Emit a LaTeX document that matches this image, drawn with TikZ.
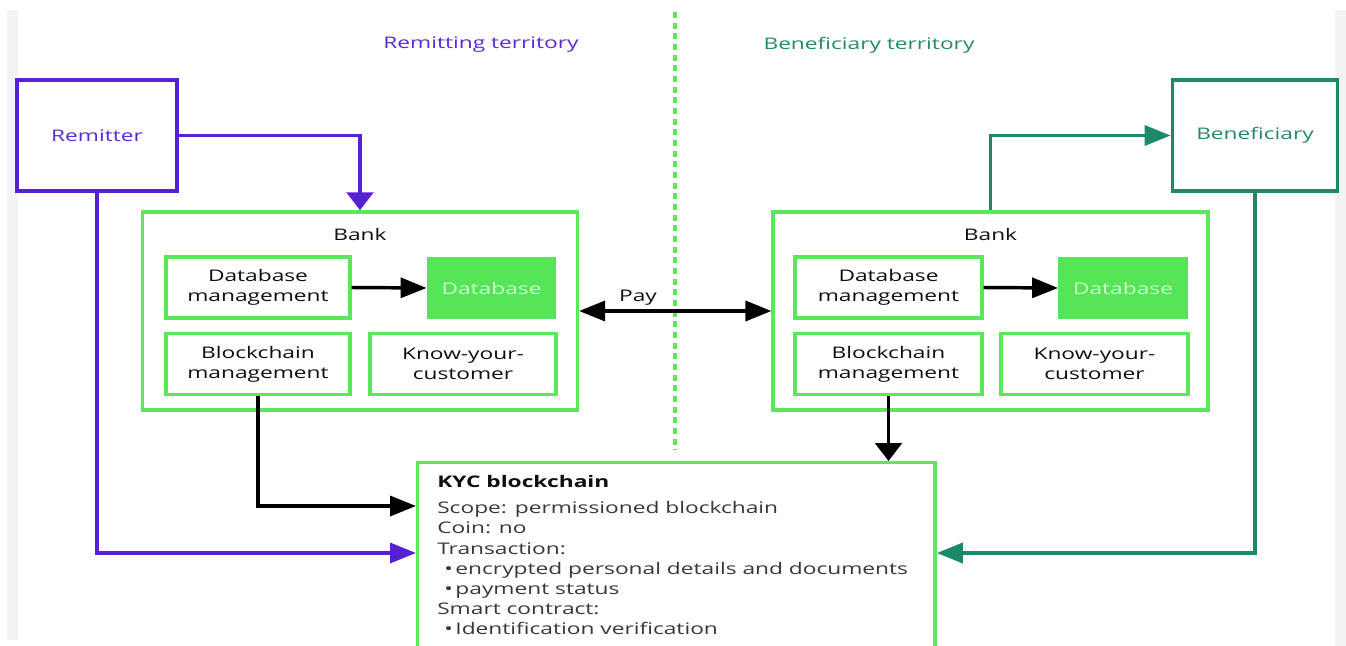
\documentclass[tikz,border=0pt]{standalone}
\usepackage{fontspec}
\setmainfont{Open Sans}[FakeStretch=1.42]
\usetikzlibrary{arrows.meta}

\definecolor{remit}{HTML}{5521D3}
\definecolor{remittxt}{HTML}{5A2AD4}
\definecolor{benef}{HTML}{1C8A69}
\definecolor{benetxt}{HTML}{248A6B}
\definecolor{boxgreen}{HTML}{5AE75A}
\definecolor{dbfill}{HTML}{56E556}
\definecolor{dbtext}{HTML}{CDF8CD}
\definecolor{labeltxt}{HTML}{0F0F0F}
\definecolor{bodytxt}{HTML}{383838}
\definecolor{strip}{HTML}{F3F3F3}

\begin{document}
\begin{tikzpicture}[x=0.75pt,y=-0.75pt,
  every node/.style={font=\fontsize{12}{15}\selectfont},
  party/.style={draw, line width=2.6pt, minimum width=#1, minimum height=83.25pt, inner sep=0pt},
  bankbox/.style={draw=boxgreen, line width=2.6pt, minimum width=326pt, minimum height=148.5pt, inner sep=0pt},
  unitbox/.style={draw=boxgreen, line width=2.6pt, minimum width=#1, minimum height=45.5pt, inner sep=0pt, align=center, text=labeltxt},
  dbbox/.style={fill=dbfill, draw=none, minimum width=97pt, minimum height=47pt, inner sep=0pt, text=dbtext},
  label/.style={text=labeltxt, inner sep=0pt},
  kycline/.style={anchor=base west, inner sep=0pt, text=bodytxt},
  link/.style={line width=2.6pt},
  harrow/.style={-{Triangle[length=19.5pt,width=15pt]}},
  varrow/.style={-{Triangle[length=13.5pt,width=20pt]}},
]
\useasboundingbox (0,0) rectangle (1346,646);
\fill[white] (0,0) rectangle (1346,646);
% faint side bands
\fill[strip] (7,10) rectangle (18,640);
\fill[strip] (1335,10) rectangle (1346,646);

% border between the two territories
\draw[boxgreen, line width=2.6pt, dash pattern=on 4.5pt off 3.5pt] (675,12) coordinate (divtop) -- (675,450) coordinate (divbot);

% territory titles
\node[text=remittxt, inner sep=0pt] (remtitle) at (481,45) {Remitting territory};
\node[text=benetxt, inner sep=0pt] (bentitle) at (869,45) {Beneficiary territory};

% end parties
\node[party=120pt, draw=remit, text=remittxt] (remitter) at (97,135.5) {\raisebox{-1.5pt}{Remitter}};
\node[party=124pt, draw=benef, text=benetxt] (benef) at (1255,135.5) {\raisebox{-1.5pt}{Beneficiary}};

% remitting bank
\node[bankbox] (bankL) at (360,311) {};
\node[label] (bankLt) at (360,234) {Bank};
\node[unitbox=138pt] (dbmL) at (258,287.5) {Database\\management};
\node[dbbox] (dbL) at (491.5,288) {Database};
\node[unitbox=138pt] (bcmL) at (258,364) {Blockchain\\management};
\node[unitbox=139.5pt] (kycL) at (463,364) {Know-your-\\customer};

% beneficiary bank
\node[bankbox] (bankR) at (990.5,311) {};
\node[label] (bankRt) at (990.5,234) {Bank};
\node[unitbox=140pt] (dbmR) at (888.5,287.5) {Database\\management};
\node[dbbox] (dbR) at (1123,288) {Database};
\node[unitbox=140pt] (bcmR) at (888.5,364) {Blockchain\\management};
\node[unitbox=140pt] (kycR) at (1094.5,364) {Know-your-\\customer};

% shared KYC ledger (runs past the lower edge)
\node[draw=boxgreen, line width=2.6pt, minimum width=388pt, minimum height=170pt, inner sep=0pt, anchor=north west] (kyc) at (416,461) {};
\node[kycline, text=labeltxt, font=\fontsize{12}{15}\selectfont\bfseries] (k1) at (437,487) {KYC blockchain};
\node[kycline] (k2) at (437,513) {Scope: permissioned blockchain};
\node[kycline] (k3) at (437,533) {Coin: no};
\node[kycline] (k4) at (437,554) {Transaction:};
\node[kycline] (k5) at (444,574) {•\,encrypted personal details and documents};
\node[kycline] (k6) at (444,594) {•\,payment status};
\node[kycline] (k7) at (437,614) {Smart contract:};
\node[kycline] (k8) at (444,634) {•\,Identification verification};

% connectors
\draw[link, remit, varrow] (remitter.east) -| (bankL.north);
\draw[link, remit, harrow] (remitter.south) |- (kyc.west |- 0,553);
\draw[link, benef, harrow] (bankR.north) |- (benef.west);
\draw[link, benef, harrow] (benef.south) |- (kyc.east |- 0,553);
\draw[link, black, harrow] (dbmL.east) -- (dbL.west);
\draw[link, black, harrow] (dbmR.east) -- (dbR.west);
\draw[link, black, harrow] (bcmL.south) |- (kyc.west |- 0,506);
\draw[link, black, varrow] (bcmR.south) -- (bcmR.south |- kyc.north);
\draw[link, black, {Triangle[length=19.5pt,width=15pt]}-{Triangle[length=19.5pt,width=15pt]}] (bankL.east) -- (bankR.west);
\node[label] (pay) at (638,298) {Pay};
\end{tikzpicture}
\end{document}
